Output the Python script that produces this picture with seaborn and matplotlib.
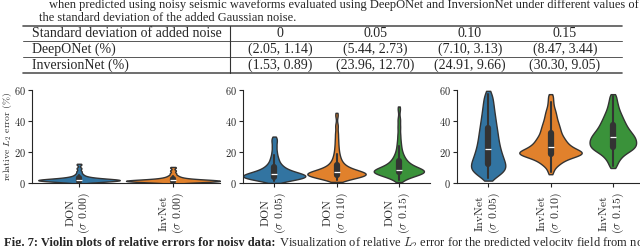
import matplotlib
matplotlib.use("Agg")
import matplotlib.pyplot as plt
from matplotlib.lines import Line2D
import seaborn as sns
import pandas as pd

# ---- caption / table text ----
caption_lines = [
    "when predicted using noisy seismic waveforms evaluated using DeepONet and InversionNet under different values of",
    "the standard deviation of the added Gaussian noise.",
]
table_header = ["Standard deviation of added noise", "0", "0.05", "0.10", "0.15"]
deeponet_row = ["DeepONet (%)", "(2.05, 1.14)", "(5.44, 2.73)", "(7.10, 3.13)", "(8.47, 3.44)"]
inversionnet_row = ["InversionNet (%)", "(1.53, 0.89)", "(23.96, 12.70)", "(24.91, 9.66)", "(30.30, 9.05)"]
caption_bold = "Fig. 7: Violin plots of relative errors for noisy data:"
caption_rest = (" Visualization of relative $L_2$ error for the predicted velocity field from noisy "
                "waveforms using")

# ---- relative L2 errors (%) ----
don_000 = [0.3, 0.6, 0.8, 1.0, 1.1, 1.2, 1.3, 1.4, 1.5, 1.6, 1.7, 1.8, 1.8, 1.9, 2.0, 2.0,
           2.1, 2.2, 2.3, 2.4, 2.5, 2.6, 2.8, 3.0, 3.2, 3.5, 3.8, 4.3, 5.0, 6.0, 7.5, 9.5, 12.0]
inv_000 = [0.2, 0.4, 0.6, 0.7, 0.8, 0.9, 1.0, 1.1, 1.2, 1.2, 1.3, 1.4, 1.4, 1.5, 1.5, 1.6,
           1.7, 1.8, 1.9, 2.0, 2.1, 2.2, 2.4, 2.6, 2.9, 3.2, 3.6, 4.2, 5.0, 6.3, 8.0, 10.0]
don_005 = [1.0, 1.6, 2.0, 2.3, 2.6, 2.8, 3.0, 3.2, 3.4, 3.6, 3.8, 4.0, 4.2, 4.4, 4.6, 4.8,
           5.0, 5.2, 5.4, 5.6, 5.8, 6.0, 6.3, 6.6, 6.9, 7.2, 7.6, 8.0, 8.5, 9.0, 9.6, 10.3,
           11.0, 12.0, 13.0, 14.5, 16.0, 18.0, 20.5, 23.5, 26.5, 29.0]
don_010 = [2.0, 2.6, 3.0, 3.4, 3.7, 4.0, 4.3, 4.55, 4.75, 4.9, 5.05, 5.2, 5.3, 5.4, 5.5,
           5.6, 5.7, 5.8, 5.95, 6.1, 6.25, 6.4, 6.6, 6.8, 7.0, 7.3, 7.6, 7.9, 8.2, 8.6, 9.0,
           9.5, 10.0, 10.6, 11.3, 12.0, 13.0, 14.0, 15.5, 17.0, 19.0, 21.5, 24.5, 28.0, 32.0,
           37.0, 44.0]
don_015 = [2.0, 3.0, 3.8, 4.4, 4.9, 5.3, 5.7, 6.0, 6.2, 6.4, 6.6, 6.8, 7.0, 7.1, 7.2, 7.4,
           7.5, 7.6, 7.8, 7.9, 8.0, 8.2, 8.4, 8.7, 9.0, 9.4, 9.8, 10.2, 10.6, 11.0, 11.5,
           12.0, 12.6, 13.2, 14.0, 14.8, 15.7, 16.7, 18.0, 19.5, 21.5, 24.0, 27.0, 31.0,
           36.0, 41.0, 48.0]
inv_005 = [3.5, 5.4, 6.5, 7.3, 8.1, 8.9, 9.7, 10.5, 11.3, 12.1, 13.0, 13.9, 14.8, 15.8,
           16.8, 17.8, 18.9, 20.0, 21.2, 22.4, 23.7, 25.0, 26.4, 27.8, 29.3, 30.8, 32.4,
           34.0, 35.7, 37.5, 39.4, 41.4, 43.5, 45.8, 48.3, 51.0, 54.0, 57.5]
inv_010 = [7.0, 10.5, 12.0, 13.0, 14.0, 14.8, 15.5, 16.2, 16.8, 17.3, 17.7, 18.1, 18.4,
           18.7, 18.9, 19.0, 19.3, 19.45, 19.6, 19.9, 20.2, 20.5, 20.9, 21.3, 21.8, 22.3,
           22.8, 23.3, 23.8, 24.3, 24.8, 25.4, 26.1, 26.8, 27.5, 28.2, 28.9, 29.6, 30.5,
           31.5, 32.5, 33.5, 34.5, 35.6, 36.8, 38.0, 39.3, 40.8, 42.5, 44.2, 46.2, 48.5,
           52.0, 56.0]
inv_015 = [11.0, 14.0, 16.0, 17.5, 18.8, 19.8, 20.6, 21.3, 21.9, 22.5, 23.05, 23.6, 24.15,
           24.7, 25.25, 25.8, 26.35, 26.9, 27.45, 28.0, 28.55, 29.1, 29.7, 30.3, 30.9, 31.5,
           32.2, 32.9, 33.6, 34.4, 35.2, 36.1, 37.0, 38.0, 39.0, 40.1, 41.3, 42.6, 44.0,
           45.6, 47.5, 49.8, 52.5, 56.0]

panels = [
    (["DON\n($\\sigma$ 0.00)", "InvNet\n($\\sigma$ 0.00)"], [don_000, inv_000]),
    (["DON\n($\\sigma$ 0.05)", "DON\n($\\sigma$ 0.10)", "DON\n($\\sigma$ 0.15)"], [don_005, don_010, don_015]),
    (["InvNet\n($\\sigma$ 0.05)", "InvNet\n($\\sigma$ 0.10)", "InvNet\n($\\sigma$ 0.15)"], [inv_005, inv_010, inv_015]),
]
panel_bw = [0.55, 0.5, 0.45]
colors = ["#1f77b4", "#ff7f0e", "#2ca02c"]

sns.set_style("ticks")
plt.rcParams["font.family"] = ["cmr10", "DejaVu Serif"]
plt.rcParams["mathtext.fontset"] = "cm"
plt.rcParams["axes.formatter.use_mathtext"] = True
plt.rcParams["axes.unicode_minus"] = False

fig = plt.figure(figsize=(6.4, 2.46), dpi=100)
W, H = 640.0, 246.0
serif = ["Liberation Serif", "DejaVu Serif"]

# ---- caption above ----
fig.text(49 / W, 1 - 5 / H, caption_lines[0], family=serif, fontsize=9.0, va="center", ha="left")
fig.text(39 / W, 1 - 18 / H, caption_lines[1], family=serif, fontsize=9.0, va="center", ha="left")

# ---- table ----
rule_y = [26, 41, 57, 73]
for i, y in enumerate(rule_y):
    lw = 1.2 if i in (0, 3) else 0.7
    fig.add_artist(Line2D([23 / W, 622 / W], [1 - y / H, 1 - y / H], color="#555555", lw=lw))
fig.add_artist(Line2D([230 / W, 230 / W], [1 - 26 / H, 1 - 73 / H], color="#333333", lw=0.8))
col_x = [32, 280, 375, 470, 565]
for r, row in enumerate([table_header, deeponet_row, inversionnet_row]):
    yc = (rule_y[r] + rule_y[r + 1]) / 2
    for c, txt in enumerate(row):
        fig.text(col_x[c] / W, 1 - yc / H, txt, family=serif, fontsize=10,
                 ha="left" if c == 0 else "center", va="center")

# ---- violin panels ----
axes_px = [(32, 188), (243, 187), (457, 187)]
for (x0, w), (labels, vals), bw in zip(axes_px, panels, panel_bw):
    ax = fig.add_axes([x0 / W, 1 - 183 / H, w / W, (183 - 90) / H])
    df = pd.DataFrame({
        "group": [lab for lab, v in zip(labels, vals) for _ in v],
        "err": [e for v in vals for e in v],
    })
    sns.violinplot(data=df, x="group", y="err", hue="group", palette=colors[:len(labels)],
                   width=1.0, linewidth=1, linecolor="#333333", bw_adjust=bw, cut=0.6,
                   common_norm=True, legend=False, ax=ax)
    ax.set_ylim(0, 60)
    ax.set_yticks([0, 20, 40, 60])
    ax.set_xlabel("")
    ax.set_ylabel("")
    ax.tick_params(axis="y", labelsize=7.5, length=3, width=0.8, pad=1.5)
    ax.tick_params(axis="x", labelsize=8.5, length=3, width=0.8, rotation=90)
    for lab in ax.get_xticklabels():
        lab.set_multialignment("center")
    sns.despine(ax=ax)
    for sp in ax.spines.values():
        sp.set_linewidth(0.8)
    if x0 == 32:
        ax.set_ylabel("relative $L_2$ error (%)", fontsize=7)
        ax.yaxis.set_label_coords(-0.098, 0.5)

# ---- caption below (only its top is inside the crop) ----
t1 = fig.text(4 / W, 1 - 243 / H, caption_bold, family=serif, fontsize=9.0, va="center",
              ha="left", fontweight="bold")
fig.canvas.draw()
bb = t1.get_window_extent()
fig.text(bb.x1 / W, 1 - 243 / H, caption_rest, family=serif, fontsize=9.0, va="center", ha="left")

fig.savefig("out.png", dpi=100)
